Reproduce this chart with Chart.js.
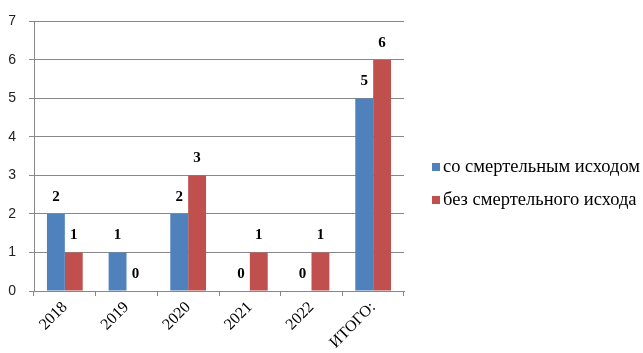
<!DOCTYPE html>
<html><head><meta charset="utf-8">
<script src="https://cdn.jsdelivr.net/npm/chart.js@4"></script>
<style>html,body{margin:0;padding:0;background:#fff}#w{width:643px;height:353px}</style>
</head><body><div id="w"><canvas id="c" width="643" height="353"></canvas></div>
<script>
const categories = ['2018', '2019', '2020', '2021', '2022', 'ИТОГО:'];
const seriesNames = ['со смертельным исходом', 'без смертельного исхода'];
const fatal = [2, 1, 2, 0, 0, 5];
const nonFatal = [1, 0, 3, 1, 1, 6];
const yTicks = [0, 1, 2, 3, 4, 5, 6, 7];
const colors = ['#4F81BD', '#C0504D'];

const labelsPlugin = {
  id: 'valueLabels',
  afterDatasetsDraw(chart) {
    const ctx = chart.ctx;
    ctx.save();
    ctx.font = 'bold 15px "Liberation Serif", "Times New Roman", serif';
    ctx.fillStyle = '#000';
    ctx.textAlign = 'center';
    ctx.textBaseline = 'middle';
    chart.data.datasets.forEach((ds, i) => {
      chart.getDatasetMeta(i).data.forEach((bar, j) => {
        ctx.fillText(String(ds.data[j]), bar.x, bar.y - 17);
      });
    });
    ctx.restore();
  }
};

const legendPlugin = {
  id: 'customLegend',
  afterDraw(chart) {
    const ctx = chart.ctx;
    ctx.save();
    ctx.font = '18.5px "Liberation Serif", "Times New Roman", serif';
    ctx.textBaseline = 'middle';
    ctx.textAlign = 'left';
    const ys = [167, 200];
    chart.data.datasets.forEach((ds, i) => {
      ctx.fillStyle = ds.backgroundColor;
      ctx.fillRect(432, ys[i] - 4, 8, 8);
      ctx.fillStyle = '#000';
      ctx.fillText(ds.label, 443, ys[i]);
    });
    ctx.restore();
  }
};

new Chart(document.getElementById('c'), {
  type: 'bar',
  data: {
    labels: categories,
    datasets: [
      { label: seriesNames[0], data: fatal, backgroundColor: colors[0] },
      { label: seriesNames[1], data: nonFatal, backgroundColor: colors[1] }
    ]
  },
  options: {
    responsive: false,
    animation: false,
    layout: { padding: { left: 0, top: 17, right: 239, bottom: 0 } },
    datasets: { bar: { categoryPercentage: 0.58, barPercentage: 1.0 } },
    plugins: { legend: { display: false }, tooltip: { enabled: false } },
    scales: {
      x: {
        grid: { offset: true, drawOnChartArea: false, color: '#888', tickLength: 5, tickWidth: 1 },
        border: { color: '#888', width: 1 },
        ticks: {
          minRotation: 45, maxRotation: 45, color: '#000', padding: 2,
          font: { family: '"Liberation Serif", "Times New Roman", serif', size: 16 }
        },
        afterFit(s) { s.height = 62; }
      },
      y: {
        min: 0, max: 7,
        afterBuildTicks(s) { s.ticks = yTicks.map(v => ({ value: v })); },
        grid: { color: '#888', tickLength: 5, lineWidth: 1 },
        border: { color: '#888', width: 1 },
        ticks: {
          color: '#222', padding: 13,
          font: { family: '"Liberation Sans", Arial, sans-serif', size: 14 }
        },
        afterFit(s) { s.width = 34; }
      }
    }
  },
  plugins: [labelsPlugin, legendPlugin]
});
</script></body></html>
